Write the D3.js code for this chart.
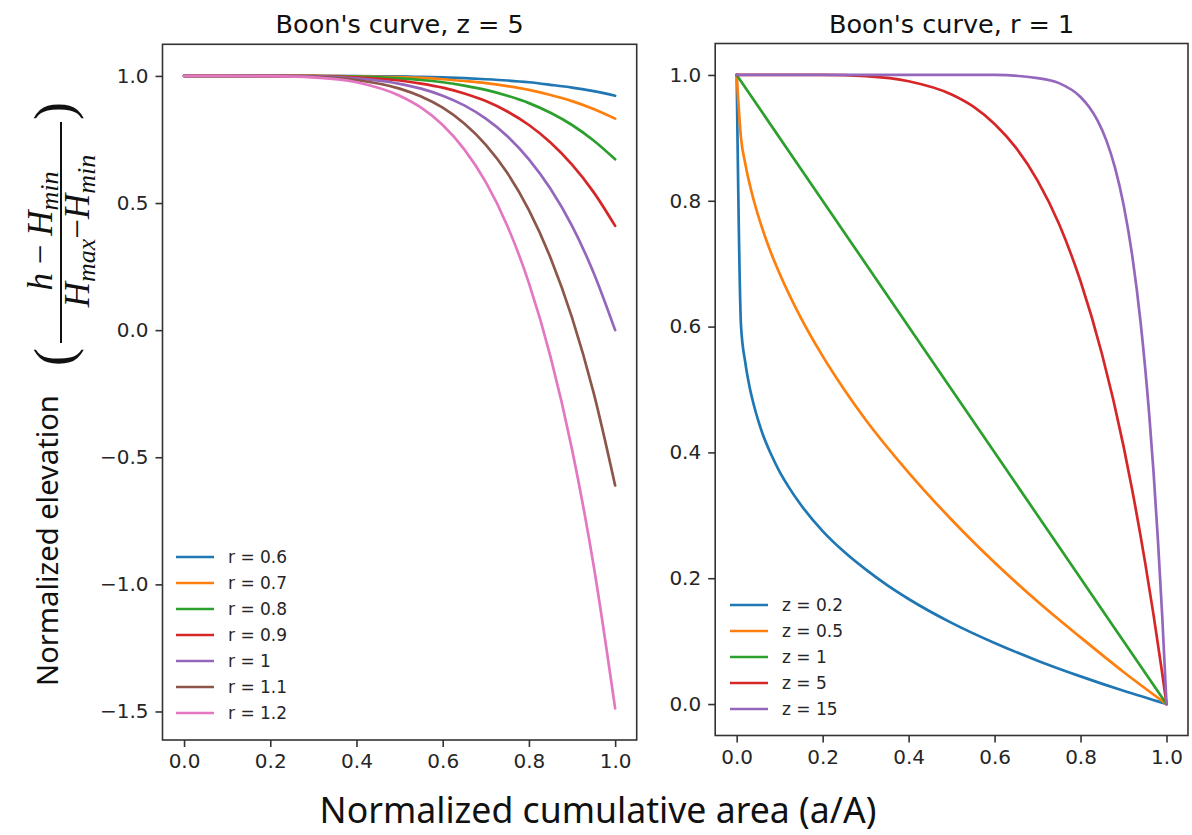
<!DOCTYPE html>
<html><head><meta charset="utf-8">
<script src="https://cdn.jsdelivr.net/npm/d3@7"></script>
<style>body{margin:0;background:#fff}svg{display:block}</style>
</head><body>
<svg id="chart" width="1192" height="835"></svg>
<script>
// ---------- data ----------
const xTicks = [0, 0.2, 0.4, 0.6, 0.8, 1.0];
const leftYTicks = [-1.5, -1.0, -0.5, 0.0, 0.5, 1.0];
const rightYTicks = [0.0, 0.2, 0.4, 0.6, 0.8, 1.0];

const leftTitle = "Boon's curve, z = 5";
const rightTitle = "Boon's curve, r = 1";

const leftLabels = ["r = 0.6", "r = 0.7", "r = 0.8", "r = 0.9", "r = 1", "r = 1.1", "r = 1.2"];
const xLeft = [0, 0.1, 0.2, 0.3, 0.4, 0.5, 0.55, 0.6, 0.65, 0.7, 0.75, 0.8, 0.85, 0.9, 0.95, 1.0];
const r06 = [1, 1.000, 1.000, 1.000, 0.999, 0.998, 0.996, 0.994, 0.991, 0.987, 0.982, 0.975, 0.965, 0.954, 0.940, 0.922];
const r07 = [1, 1.000, 1.000, 1.000, 0.998, 0.995, 0.992, 0.987, 0.980, 0.972, 0.960, 0.945, 0.925, 0.901, 0.870, 0.832];
const r08 = [1, 1.000, 1.000, 0.999, 0.997, 0.990, 0.984, 0.975, 0.962, 0.945, 0.922, 0.893, 0.855, 0.807, 0.746, 0.672];
const r09 = [1, 1.000, 1.000, 0.999, 0.994, 0.982, 0.970, 0.954, 0.931, 0.901, 0.860, 0.807, 0.738, 0.651, 0.543, 0.410];
const r10 = [1, 1.000, 1.000, 0.998, 0.990, 0.969, 0.950, 0.922, 0.884, 0.832, 0.763, 0.672, 0.556, 0.410, 0.226, 0.000];
const r11 = [1, 1.000, 0.999, 0.996, 0.984, 0.950, 0.919, 0.875, 0.813, 0.729, 0.618, 0.472, 0.285, 0.049, -0.246, -0.611];
const r12 = [1, 1.000, 0.999, 0.994, 0.975, 0.922, 0.875, 0.807, 0.711, 0.582, 0.410, 0.185, -0.104, -0.469, -0.925, -1.488];

const rightLabels = ["z = 0.2", "z = 0.5", "z = 1", "z = 5", "z = 15"];
const z02x = [0, 0.01, 0.02, 0.03, 0.04, 0.05, 0.06, 0.08, 0.1, 0.12, 0.15, 0.2, 0.25, 0.3, 0.35, 0.4, 0.5, 0.6, 0.7, 0.8, 0.9, 1.0];
const z02y = [1, 0.602, 0.543, 0.504, 0.475, 0.451, 0.430, 0.397, 0.369, 0.346, 0.316, 0.275, 0.242, 0.214, 0.189, 0.167, 0.129, 0.097, 0.069, 0.044, 0.021, 0];
const z05x = [0, 0.01, 0.02, 0.04, 0.06, 0.08, 0.1, 0.15, 0.2, 0.25, 0.3, 0.4, 0.5, 0.6, 0.7, 0.8, 0.9, 1.0];
const z05y = [1, 0.900, 0.859, 0.800, 0.755, 0.717, 0.684, 0.613, 0.553, 0.500, 0.452, 0.368, 0.293, 0.225, 0.163, 0.106, 0.051, 0];
const z1x = [0, 0.25, 0.5, 0.75, 1.0];
const z1y = [1, 0.75, 0.5, 0.25, 0];
const z5x = [0, 0.1, 0.2, 0.3, 0.4, 0.5, 0.55, 0.6, 0.65, 0.7, 0.75, 0.8, 0.85, 0.9, 0.92, 0.95, 0.97, 0.99, 1.0];
const z5y = [1, 1.000, 1.000, 0.998, 0.990, 0.969, 0.950, 0.922, 0.884, 0.832, 0.763, 0.672, 0.556, 0.410, 0.341, 0.226, 0.141, 0.049, 0];
const z15x = [0, 0.4, 0.5, 0.6, 0.7, 0.75, 0.8, 0.82, 0.84, 0.86, 0.88, 0.9, 0.92, 0.94, 0.96, 0.97, 0.98, 0.99, 1.0];
const z15y = [1, 1.000, 1.000, 1.000, 0.995, 0.987, 0.965, 0.949, 0.927, 0.896, 0.853, 0.794, 0.714, 0.605, 0.458, 0.367, 0.261, 0.140, 0];

const colors = ["#1f77b4", "#ff7f0e", "#2ca02c", "#d62728", "#9467bd", "#8c564b", "#e377c2"];

// ---------- build ----------
const leftSeries = [r06, r07, r08, r09, r10, r11, r12].map((ys, i) => ({
  label: leftLabels[i], pts: xLeft.map((x, j) => [x, ys[j]])
}));
const rightSeries = [[z02x, z02y], [z05x, z05y], [z1x, z1y], [z5x, z5y], [z15x, z15y]].map(([xs, ys], i) => ({
  label: rightLabels[i], pts: xs.map((x, j) => [x, ys[j]])
}));

const svg = d3.select("#chart");
const tickFont = "DejaVu Sans, sans-serif";
const textCol = "#262626";

function panel(cfg) {
  const x = d3.scaleLinear().domain([-0.05, 1.05]).range([cfg.left, cfg.right]);
  const y = d3.scaleLinear().domain(cfg.yDomain).range([cfg.bottom, cfg.top]);
  const g = svg.append("g");

  const clipId = "clip" + cfg.id;
  svg.append("clipPath").attr("id", clipId).append("rect")
    .attr("x", cfg.left).attr("y", cfg.top).attr("width", cfg.right - cfg.left).attr("height", cfg.bottom - cfg.top);

  const line = d3.line().x(d => x(d[0])).y(d => y(d[1])).curve(d3.curveMonotoneX);
  g.append("g").attr("clip-path", `url(#${clipId})`).selectAll("path")
    .data(cfg.series).join("path")
    .attr("d", d => line(d.pts))
    .attr("fill", "none")
    .attr("stroke", (d, i) => colors[i])
    .attr("stroke-width", 2.7)
    .attr("stroke-linejoin", "round")
    .attr("stroke-linecap", "round");

  const fmt = d3.format(".1f");
  const xa = g.append("g").attr("transform", `translate(0,${cfg.bottom})`)
    .call(d3.axisBottom(x).tickValues(xTicks).tickFormat(fmt).tickSize(7).tickPadding(7));
  const ya = g.append("g").attr("transform", `translate(${cfg.left},0)`)
    .call(d3.axisLeft(y).tickValues(cfg.yTicks).tickFormat(fmt).tickSize(7).tickPadding(7));
  [xa, ya].forEach(a => {
    a.select(".domain").remove();
    a.selectAll(".tick line").attr("stroke", "#333").attr("stroke-width", 1.6);
    a.selectAll(".tick text").attr("font-family", tickFont).attr("font-size", 20).attr("fill", textCol);
  });

  g.append("rect")
    .attr("x", cfg.left).attr("y", cfg.top)
    .attr("width", cfg.right - cfg.left).attr("height", cfg.bottom - cfg.top)
    .attr("fill", "none").attr("stroke", "#333").attr("stroke-width", 1.6);

  g.append("text")
    .attr("x", (cfg.left + cfg.right) / 2).attr("y", cfg.top - 11)
    .attr("text-anchor", "middle")
    .attr("font-family", tickFont).attr("font-size", 25.5).attr("fill", "#111")
    .text(cfg.title);

  const leg = g.append("g");
  const items = leg.selectAll("g").data(cfg.series).join("g")
    .attr("transform", (d, i) => `translate(${cfg.legX},${cfg.legY + i * cfg.legStep})`);
  items.append("line").attr("x1", 0).attr("x2", 38).attr("y1", 0).attr("y2", 0)
    .attr("stroke", (d, i) => colors[i]).attr("stroke-width", 2.7);
  items.append("text").attr("x", 52).attr("y", 0).attr("dy", "0.36em")
    .attr("font-family", tickFont).attr("font-size", 17).attr("fill", textCol)
    .text(d => d.label);
}

panel({ id: "L", left: 162.5, right: 636.7, top: 44.3, bottom: 740, yDomain: [-1.6122, 1.1244],
  yTicks: leftYTicks, series: leftSeries, title: leftTitle, legX: 176, legY: 557, legStep: 26 });
panel({ id: "R", left: 715.2, right: 1188, top: 43.5, bottom: 735.5, yDomain: [-0.05, 1.05],
  yTicks: rightYTicks, series: rightSeries, title: rightTitle, legX: 730, legY: 605, legStep: 26 });

// x label
const labFont = "Noto Sans, Open Sans, sans-serif";
function fit(sel, target) {
  const w = sel.node().getComputedTextLength();
  const fs = +sel.attr("font-size");
  sel.attr("font-size", fs * target / w);
}
const xl = svg.append("text").attr("x", 598).attr("y", 823).attr("text-anchor", "middle")
  .attr("font-family", labFont).attr("font-size", 30).attr("fill", "#111")
  .text("Normalized cumulative area (a/A)");
fit(xl, 557);

// y label (rotated)
const yg = svg.append("g").attr("transform", "translate(58,686) rotate(-90)");
const yl = yg.append("text").attr("x", 0).attr("y", 0)
  .attr("font-family", labFont).attr("font-size", 30).attr("fill", "#111")
  .text("Normalized elevation");
fit(yl, 291);
const mathFont = "Liberation Serif, DejaVu Serif, serif";
yg.append("text").attr("x", 320).attr("y", 14).attr("font-family", mathFont)
  .attr("font-size", 54).attr("fill", "#111").text("(");
yg.append("text").attr("x", 566).attr("y", 14).attr("font-family", mathFont)
  .attr("font-size", 54).attr("fill", "#111").text(")");
yg.append("line").attr("x1", 343).attr("x2", 564).attr("y1", 3).attr("y2", 3)
  .attr("stroke", "#111").attr("stroke-width", 2);
const num = yg.append("text").attr("x", 455).attr("y", -6).attr("text-anchor", "middle")
  .attr("font-family", mathFont).attr("font-size", 35).attr("fill", "#111").attr("font-style", "italic");
num.append("tspan").text("h");
num.append("tspan").attr("font-style", "normal").text(" − ");
num.append("tspan").text("H");
num.append("tspan").attr("font-size", 26).attr("dy", 6).text("min");
const den = yg.append("text").attr("x", 455).attr("y", 31).attr("text-anchor", "middle")
  .attr("font-family", mathFont).attr("font-size", 35).attr("fill", "#111").attr("font-style", "italic");
den.append("tspan").text("H");
den.append("tspan").attr("font-size", 26).attr("dy", 6).text("max");
den.append("tspan").attr("font-style", "normal").attr("dy", -6).text("−");
den.append("tspan").text("H");
den.append("tspan").attr("font-size", 26).attr("dy", 6).text("min");
</script>
</body></html>
